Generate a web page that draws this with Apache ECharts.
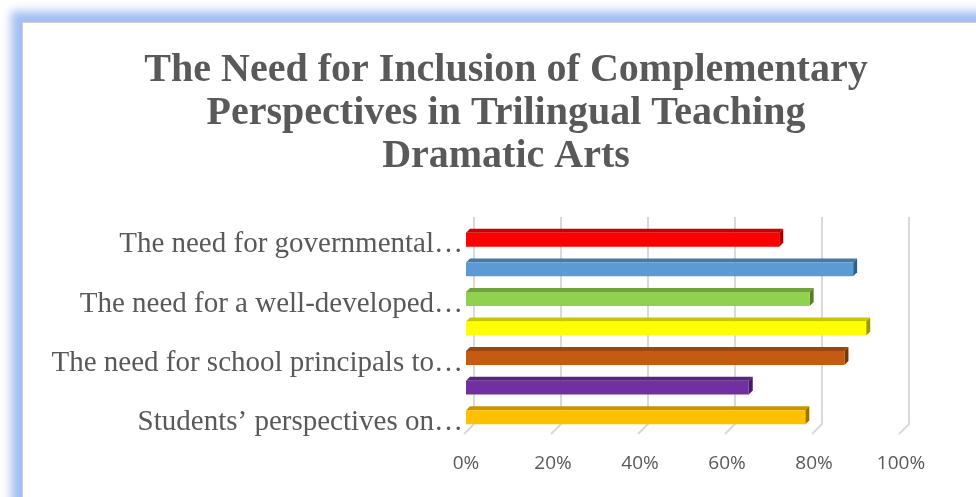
<!DOCTYPE html>
<html>
<head>
<meta charset="utf-8">
<script src="https://cdn.jsdelivr.net/npm/echarts@6/dist/echarts.min.js"></script>
<style>
html,body{margin:0;padding:0;background:#fff;width:976px;height:497px;overflow:hidden;}
#frame{position:absolute;left:22px;top:22px;width:1000px;height:520px;background:#fff;border:1px solid #cfcfcf;box-shadow:0 0 9px 11px #a2c0f5;}
#chart{position:absolute;left:0;top:0;width:976px;height:497px;}
</style>
</head>
<body>
<div id="frame"></div>
<div id="chart"></div>
<script>
const titleText = "The Need for Inclusion of Complementary\nPerspectives in Trilingual Teaching\nDramatic Arts";
const categories = [
  "The need for governmental support",
  "The need for …",
  "The need for a well-developed curriculum",
  "The need for …",
  "The need for school principals to support",
  "The need for …",
  "Students\u2019 perspectives on dramatic arts"
];
const shownLabels = [
  "The need for governmental\u2026",
  "",
  "The need for a well-developed\u2026",
  "",
  "The need for school principals to\u2026",
  "",
  "Students\u2019 perspectives on\u2026"
];
const values = [72, 89, 79, 92, 87, 65, 78];
const barColors = ["#FF0000", "#5B9BD5", "#92D050", "#FFFF00", "#C55A11", "#7030A0", "#FFC000"];
const xTicks = [0, 20, 40, 60, 80, 100];

function darken(hex, k) {
  const n = parseInt(hex.slice(1), 16);
  const r = Math.round(((n >> 16) & 255) * k);
  const g = Math.round(((n >> 8) & 255) * k);
  const b = Math.round((n & 255) * k);
  return 'rgb(' + r + ',' + g + ',' + b + ')';
}

const chart = echarts.init(document.getElementById('chart'));
const D = 4;      // bar depth
const G = 8;      // back wall offset

const option = {
  backgroundColor: 'transparent',
  animation: false,
  title: {
    text: titleText,
    left: 501,
    textAlign: 'center',
    top: 44,
    textStyle: {
      fontFamily: 'Liberation Serif',
      fontWeight: 'bold',
      fontSize: 40,
      lineHeight: 43,
      color: '#595959'
    }
  },
  grid: { left: 466, right: 75, top: 225, bottom: 65, containLabel: false },
  xAxis: {
    type: 'value', min: 0, max: 100, interval: 20,
    axisLine: { show: false }, axisTick: { show: false }, splitLine: { show: false },
    axisLabel: {
      formatter: '{value}%', margin: 22,
      fontFamily: 'Open Sans', fontSize: 19, color: '#595959'
    }
  },
  yAxis: {
    type: 'category', inverse: true, data: categories,
    axisLine: { show: false }, axisTick: { show: false }, splitLine: { show: false },
    axisLabel: {
      interval: 0, margin: 3,
      formatter: (v, i) => shownLabels[i] ? '{a|' + shownLabels[i] + '}' : '',
      rich: {
        a: { fontFamily: 'Liberation Serif', fontSize: 29, color: '#595959', padding: [10, 0, 0, 0] }
      },
      fontFamily: 'Liberation Serif', fontSize: 29, color: '#595959'
    }
  },
  series: [
    {
      type: 'custom', z: 1, silent: true,
      data: xTicks.map(t => [t, 0]),
      renderItem: function (params, api) {
        const x = api.coord([api.value(0), 0])[0];
        const band = api.size([0, 1])[1];
        const top = api.coord([0, 0])[1] - band / 2;
        const bottom = api.coord([0, categories.length - 1])[1] + band / 2;
        return {
          type: 'polyline',
          shape: { points: [[x - 2, bottom + 2], [x + G, bottom - G], [x + G, top - G]] },
          style: { stroke: '#d9d9d9', lineWidth: 2, fill: null }
        };
      }
    },
    {
      type: 'custom', z: 2,
      data: values.map((v, i) => [v, i]),
      renderItem: function (params, api) {
        const v = api.value(0), cat = api.value(1);
        const p0 = api.coord([0, cat]);
        const p1 = api.coord([v, cat]);
        const band = api.size([0, 1])[1];
        const h = band * 0.47;
        const y0 = p0[1] - h / 2;
        const c = barColors[params.dataIndex];
        const topC = darken(c, 0.78);
        const sideC = darken(c, 0.6);
        return {
          type: 'group',
          children: [
            { type: 'polygon', shape: { points: [[p0[0], y0], [p1[0], y0], [p1[0] + D, y0 - D], [p0[0] + D, y0 - D]] },
              style: { fill: topC } },
            { type: 'polygon', shape: { points: [[p1[0], y0], [p1[0] + D, y0 - D], [p1[0] + D, y0 - D + h], [p1[0], y0 + h]] },
              style: { fill: sideC } },
            { type: 'rect', shape: { x: p0[0], y: y0, width: p1[0] - p0[0], height: h },
              style: { fill: c } }
          ]
        };
      }
    }
  ]
};
chart.setOption(option);
</script>
</body>
</html>
